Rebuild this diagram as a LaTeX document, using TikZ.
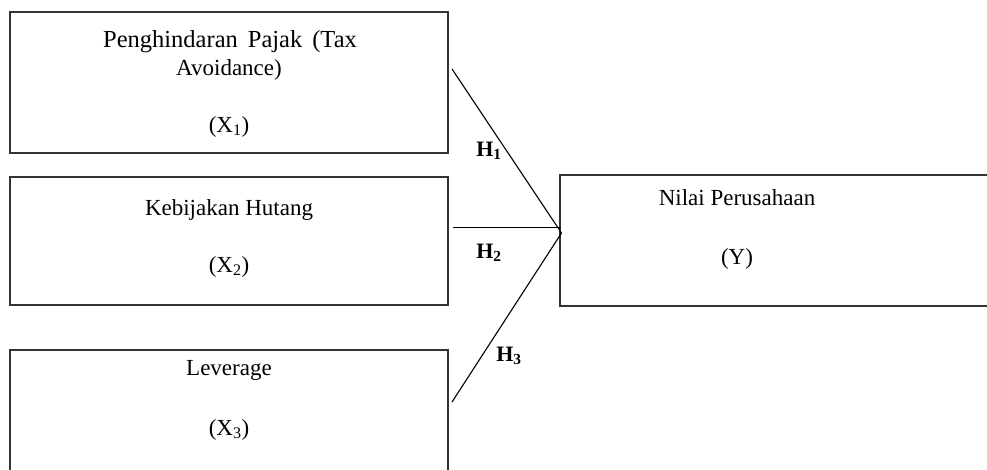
\documentclass[tikz,border=0pt]{standalone}
\usepackage{fontspec}
\setmainfont{Liberation Serif}
\begin{document}
\begin{tikzpicture}[x=1pt,y=-1pt,
  box/.style={draw=black!80,line width=1.5pt,inner sep=0pt},
  lbl/.style={font=\fontsize{23}{27}\selectfont,inner sep=0pt,anchor=base},
  hyp/.style={font=\fontsize{22}{26}\selectfont\bfseries,inner sep=0pt,anchor=base},
  conn/.style={draw=black,line width=1.1pt}]
\useasboundingbox (0,0) rectangle (987,469);
\clip (0,0) rectangle (987,469);
\node[box,minimum width=438pt,minimum height=141pt] (b1) at (229,82.5) {};
\node[box,minimum width=438pt,minimum height=128pt] (b2) at (229,241) {};
\node[box,minimum width=438pt,minimum height=160pt] (b3) at (229,430) {};
\node[box,minimum width=440pt,minimum height=131pt] (by) at (780,240.5) {};
\node[lbl,font=\fontsize{24.5}{28}\selectfont] (t1a) at (230,47) {Penghindaran\hskip 10pt Pajak\hskip 10pt (Tax};
\node[lbl] (t1b) at (229,75) {Avoidance)};
\node[lbl] (t1c) at (229,132) {(X\textsubscript{1})};
\node[lbl] (t2a) at (229,215) {Kebijakan Hutang};
\node[lbl] (t2b) at (229,272) {(X\textsubscript{2})};
\node[lbl] (t3a) at (229,375) {Leverage};
\node[lbl] (t3b) at (229,435) {(X\textsubscript{3})};
\node[lbl] (tya) at (737,205) {Nilai Perusahaan};
\node[lbl] (tyb) at (737,264) {(Y)};
\coordinate (s1) at (452,69);
\coordinate (s2) at (453,227.5);
\coordinate (s3) at (452,402);
\coordinate (m) at (561.5,233);
\coordinate (m2) at (561,227.5);
\draw[conn] (s1) -- (m);
\draw[conn] (s2) -- (m2);
\draw[conn] (s3) -- (m);
\node[hyp] (h1) at (489,156) {H\textsubscript{1}};
\node[hyp] (h2) at (489,258) {H\textsubscript{2}};
\node[hyp] (h3) at (509,361) {H\textsubscript{3}};
\end{tikzpicture}
\end{document}
